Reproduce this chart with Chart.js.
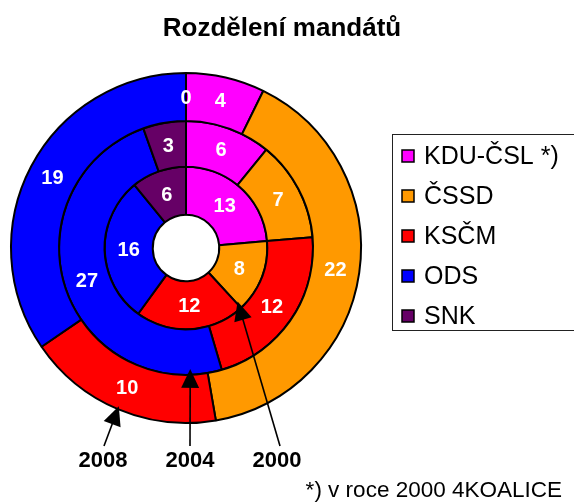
<!DOCTYPE html>
<html>
<head>
<meta charset="utf-8">
<script src="https://cdn.jsdelivr.net/npm/chart.js@4.4.0/dist/chart.umd.min.js"></script>
<style>
  html, body { margin: 0; padding: 0; background: #fff; }
  canvas { display: block; }
</style>
</head>
<body>
<canvas id="chartCanvas" width="574" height="503"></canvas>
<script>
// mandáty v zastupitelstvu - vnější kruh 2008, prostřední 2004, vnitřní 2000
const parties = ['KDU-ČSL *)', 'ČSSD', 'KSČM', 'ODS', 'SNK'];
const years = ['2008', '2004', '2000'];
const seats2008 = [4, 22, 10, 19, 0];
const seats2004 = [6, 7, 12, 27, 3];
const seats2000 = [13, 8, 12, 16, 6];
const partyColors = ['#ff00ff', '#ff9900', '#ff0000', '#0000ff', '#660066'];

const chartTitle = 'Rozdělení mandátů';
const footnote = '*) v roce 2000 4KOALICE';
const FONT = '"Liberation Sans", Arial, Helvetica, sans-serif';

// šipky k letopočtům: úhel ve stupních od vrcholu, o kolik dovnitř od okraje kruhu
const arrowNotes = [
  { ring: 0, angle: 203, inset: 3, labelDx: -83, tailDx: -82 },
  { ring: 1, angle: 178, inset: 6, labelDx: 4, tailDx: 4 },
  { ring: 2, angle: 136, inset: 7, labelDx: 91, tailDx: 94 }
];

const sliceLabels = {
  id: 'sliceLabels',
  afterDatasetsDraw(chart) {
    const ctx = chart.ctx;
    ctx.save();
    ctx.fillStyle = '#fff';
    ctx.font = 'bold 20px ' + FONT;
    ctx.textAlign = 'center';
    ctx.textBaseline = 'middle';
    chart.data.datasets.forEach((ds, i) => {
      const meta = chart.getDatasetMeta(i);
      meta.data.forEach((arc, j) => {
        const p = arc.tooltipPosition();
        ctx.fillText(String(ds.data[j]), p.x, p.y + 1);
      });
    });
    ctx.restore();
  }
};

const extras = {
  id: 'extras',
  afterDraw(chart) {
    const ctx = chart.ctx;
    const first = chart.getDatasetMeta(0).data[0];
    const cx = first.x, cy = first.y;
    ctx.save();

    // nadpis
    ctx.fillStyle = '#000';
    ctx.font = 'bold 26px ' + FONT;
    ctx.textAlign = 'center';
    ctx.textBaseline = 'middle';
    ctx.fillText(chartTitle, 282, 29);

    // šipky a roky
    arrowNotes.forEach(a => {
      const arc = chart.getDatasetMeta(a.ring).data[0];
      const r = arc.outerRadius - a.inset;
      const ang = (a.angle - 90) * Math.PI / 180;
      const tx = cx + r * Math.cos(ang), ty = cy + r * Math.sin(ang);
      const sx = cx + a.tailDx, sy = cy + 198;
      const dir = Math.atan2(ty - sy, tx - sx);
      const len = 19, half = 9;
      ctx.strokeStyle = '#000';
      ctx.lineWidth = 1.6;
      ctx.beginPath();
      ctx.moveTo(sx, sy);
      ctx.lineTo(tx - (len - 2) * Math.cos(dir), ty - (len - 2) * Math.sin(dir));
      ctx.stroke();
      const bx = tx - len * Math.cos(dir), by = ty - len * Math.sin(dir);
      ctx.beginPath();
      ctx.moveTo(tx, ty);
      ctx.lineTo(bx + half * Math.sin(dir), by - half * Math.cos(dir));
      ctx.lineTo(bx - half * Math.sin(dir), by + half * Math.cos(dir));
      ctx.closePath();
      ctx.fillStyle = '#000';
      ctx.fill();
      ctx.font = 'bold 22px ' + FONT;
      ctx.fillText(years[a.ring], cx + a.labelDx, cy + 213);
    });

    // legenda
    ctx.strokeStyle = '#222';
    ctx.lineWidth = 1;
    ctx.strokeRect(392.5, 134.5, 200, 196);
    ctx.font = '25px ' + FONT;
    ctx.textAlign = 'left';
    parties.forEach((p, i) => {
      const y = 156 + i * 40;
      ctx.fillStyle = partyColors[i];
      ctx.fillRect(402, y - 6, 12, 12);
      ctx.strokeStyle = '#000';
      ctx.lineWidth = 1.5;
      ctx.strokeRect(402, y - 6, 12, 12);
      ctx.fillStyle = '#000';
      ctx.fillText(p, 424, y + 1);
    });

    // poznámka
    ctx.font = '22.5px ' + FONT;
    ctx.textAlign = 'right';
    ctx.fillText(footnote, 562, 491);
    ctx.restore();
  }
};

new Chart(document.getElementById('chartCanvas').getContext('2d'), {
  type: 'doughnut',
  data: {
    labels: parties,
    datasets: [
      { label: years[0], data: seats2008, backgroundColor: partyColors, borderColor: '#000', borderWidth: 2 },
      { label: years[1], data: seats2004, backgroundColor: partyColors, borderColor: '#000', borderWidth: 2, weight: 0.95 },
      { label: years[2], data: seats2000, backgroundColor: partyColors, borderColor: '#000', borderWidth: 2 }
    ]
  },
  options: {
    responsive: false,
    animation: false,
    cutout: '19%',
    layout: { padding: { left: 10, top: 72, right: 212, bottom: 79 } },
    plugins: {
      legend: { display: false },
      title: { display: false },
      tooltip: { enabled: false }
    }
  },
  plugins: [sliceLabels, extras]
});
</script>
</body>
</html>
